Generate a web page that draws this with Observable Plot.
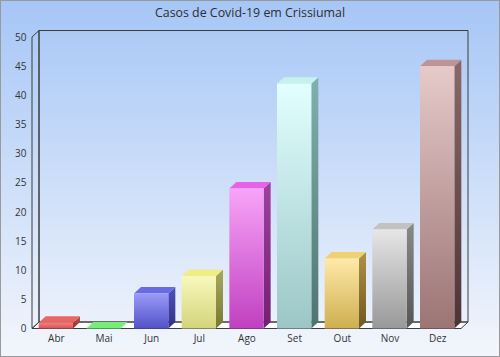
<!DOCTYPE html>
<html><head><meta charset="utf-8">
<script src="https://cdn.jsdelivr.net/npm/d3@7"></script>
<script src="https://cdn.jsdelivr.net/npm/@observablehq/plot@0.6"></script>
<style>
body{margin:0;background:#fff;}
#chart{position:relative;width:500px;height:357px;background:linear-gradient(#a6c6f6,#f3f6fc);overflow:hidden;font-family:"Open Sans",sans-serif;}
#border{position:absolute;left:0;top:0;width:500px;height:357px;box-sizing:border-box;border:1px solid #9a9a9a;pointer-events:none;}
#title{position:absolute;top:4px;left:0;width:500px;text-align:center;font-size:12.4px;color:#2e2e2e;}
#chart svg{position:absolute;left:0;top:0;max-width:none !important;width:500px;height:357px;}
</style></head>
<body>
<div id="chart"><div id="title">Casos de Covid-19 em Crissiumal</div></div>
<script>
const months = ["Abr","Mai","Jun","Jul","Ago","Set","Out","Nov","Dez"];
const cases = [1,0,6,9,24,42,12,17,45];
const yTicks = [0,5,10,15,20,25,30,35,40,45,50];

const frontLight = ["#f48080","#90f890","#9a9af8","#f8f8bc","#f8a4f8","#e2ffff","#ffe9a8","#e6e6e6","#e6caca"];
const frontDark  = ["#d85252","#60d860","#5252c8","#d4d47c","#c040c0","#9cc6c6","#ceae50","#989898","#9c7474"];
const topFill    = ["#e86666","#78ec78","#6a6ae6","#eeee84","#e862e8","#c6f2ee","#f0d070","#c2c2c2","#c09494"];
const sideLight  = ["#c05050","#58b858","#5050b8","#a8a860","#a040a0","#82b0ac","#b09048","#8a8a8a","#8c6868"];
const sideDark   = ["#903030","#389038","#303088","#787830","#702070","#4e7470","#705820","#555555","#4c3434"];

const data = months.map((m, i) => ({month: m, cases: cases[i], i}));
const DX = 7, DY = 6.5;

function defs() {
  const d = d3.create("svg:defs");
  data.forEach((_, i) => {
    const f = d.append("linearGradient").attr("id", "front" + i).attr("x1", 0).attr("y1", 0).attr("x2", 0).attr("y2", 1);
    f.append("stop").attr("offset", "0%").attr("stop-color", frontLight[i]);
    f.append("stop").attr("offset", "100%").attr("stop-color", frontDark[i]);
    const s = d.append("linearGradient").attr("id", "side" + i).attr("x1", 0).attr("y1", 0).attr("x2", 0).attr("y2", 1);
    s.append("stop").attr("offset", "0%").attr("stop-color", sideLight[i]);
    s.append("stop").attr("offset", "100%").attr("stop-color", sideDark[i]);
  });
  return d.node();
}

function walls(index, scales) {
  const [xl, xr] = scales.x.range();
  const y0 = scales.y(0), yt = scales.y(50);
  const g = d3.create("svg:g").attr("fill", "none").attr("stroke", "#3c3c3c").attr("stroke-width", 1);
  const p = pts => pts.map(q => q.join(",")).join(" ");
  g.append("polygon").attr("points", p([[xl, y0], [xr, y0], [xr + DX, y0 - DY], [xl + DX, y0 - DY]]))
    .attr("fill", "#ffffff");
  g.append("polygon").attr("points", p([[xl, y0], [xl, yt], [xl + DX, yt - DY], [xl + DX, y0 - DY]]));
  g.append("polygon").attr("points", p([[xl + DX, yt - DY], [xr + DX, yt - DY], [xr + DX, y0 - DY], [xl + DX, y0 - DY]]));
  return g.node();
}

function faces(index, scales) {
  const x = scales.x, y = scales.y, bw = x.bandwidth(), y0 = y(0);
  const g = d3.create("svg:g");
  const p = pts => pts.map(q => q.join(",")).join(" ");
  data.forEach((d, i) => {
    const x0 = x(d.month), x1 = x0 + bw, yt = y(d.cases);
    if (d.cases > 0) {
      g.append("polygon").attr("points", p([[x1, yt], [x1 + DX, yt - DY], [x1 + DX, y0 - DY], [x1, y0]]))
        .attr("fill", `url(#side${i})`);
    }
    g.append("polygon").attr("points", p([[x0, yt], [x1, yt], [x1 + DX, yt - DY], [x0 + DX, yt - DY]]))
      .attr("fill", topFill[i]);
  });
  return g.node();
}

const chart = Plot.plot({
  width: 500,
  height: 357,
  marginLeft: 32,
  marginRight: 39,
  marginTop: 37,
  marginBottom: 28.5,
  style: {background: "transparent", fontFamily: "'Open Sans', sans-serif", fontSize: "10px", color: "#333"},
  x: {domain: months, paddingInner: 0.28, paddingOuter: 0.14, round: false, label: null},
  y: {domain: [0, 50], label: null},
  color: {type: "identity"},
  marks: [
    defs,
    walls,
    Plot.axisY({ticks: yTicks, tickSize: 0, tickPadding: 6, label: null, fontSize: 10}),
    Plot.axisX({tickSize: 0, tickPadding: 6, label: null, fontSize: 10}),
    faces,
    Plot.barY(data, {x: "month", y: "cases", fill: d => `url(#front${d.i})`})
  ]
});
const el = document.getElementById("chart");
el.appendChild(chart);
const b = document.createElement("div"); b.id = "border"; el.appendChild(b);
</script>
</body></html>
